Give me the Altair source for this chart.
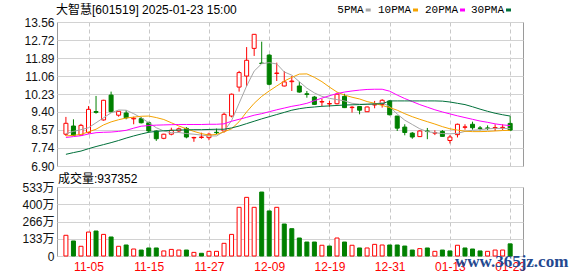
import altair as alt
import pandas as pd

# ---------------- data ----------------
opens = [8.37, 8.75, 8.33, 8.44, 9.42, 9.03, 10.18, 9.25, 9.35, 9.08,
         9.09, 8.90, 8.52, 8.18, 8.37, 8.52, 8.64, 8.20, 8.22, 8.21,
         8.46, 8.52, 9.21, 10.55, 11.06, 12.34, 11.66, 12.03, 11.18, 10.60,
         10.80, 10.60, 10.24, 10.09, 9.86, 9.77, 9.78, 10.12, 9.60, 9.65,
         9.41, 9.72, 9.75, 9.91, 9.21, 8.70, 8.42, 8.26, 8.52, 8.42,
         8.50, 8.08, 8.35, 8.69, 8.83, 8.66, 8.66, 8.66, 8.67, 8.87]
highs = [9.17, 9.06, 8.85, 9.67, 10.14, 9.96, 10.34, 9.44, 9.48, 9.18,
         9.17, 8.95, 8.55, 8.39, 8.67, 8.68, 8.70, 8.25, 8.44, 8.44,
         8.63, 9.37, 10.25, 11.30, 12.40, 13.00, 12.65, 12.07, 11.68, 11.29,
         11.06, 10.80, 10.37, 10.14, 10.01, 9.91, 10.29, 10.24, 9.67, 9.65,
         9.65, 9.91, 9.99, 9.94, 9.21, 8.83, 8.47, 8.55, 8.66, 8.55,
         8.56, 8.33, 8.86, 8.83, 8.95, 8.75, 8.78, 8.83, 8.83, 9.20]
lows = [8.29, 8.29, 8.30, 8.40, 9.32, 9.00, 9.37, 9.18, 9.06, 8.83,
        8.87, 8.44, 8.06, 8.14, 8.32, 8.45, 8.18, 8.02, 8.16, 8.09,
        8.37, 8.44, 9.15, 10.34, 10.60, 11.99, 11.62, 10.63, 10.83, 10.58,
        10.37, 10.29, 10.06, 9.72, 9.67, 9.64, 9.75, 9.58, 9.37, 9.29,
        9.40, 9.57, 9.60, 9.24, 8.52, 8.32, 8.16, 8.24, 8.14, 8.33,
        8.26, 7.94, 8.22, 8.58, 8.58, 8.55, 8.56, 8.52, 8.56, 8.52]
closes = [8.875, 8.32, 8.78, 9.52, 9.38, 9.94, 9.41, 9.43, 9.13, 9.11,
          8.90, 8.52, 8.16, 8.37, 8.55, 8.62, 8.24, 8.22, 8.24, 8.37,
          8.44, 9.29, 10.22, 11.22, 11.79, 12.99, 11.64, 10.68, 11.20, 10.79,
          10.83, 10.32, 10.21, 9.75, 9.88, 9.79, 10.22, 9.60, 9.62, 9.48,
          9.63, 9.75, 9.94, 9.27, 8.65, 8.45, 8.24, 8.52, 8.50, 8.44,
          8.27, 8.24, 8.83, 8.71, 8.67, 8.64, 8.64, 8.68, 8.69, 8.56]
# volume in units of 万
volumes = [160, 116, 75, 185, 193, 167, 147, 75, 85, 54,
           46, 62, 62, 39, 51, 46, 46, 28, 21, 36,
           36, 98, 167, 376, 453, 376, 494, 348, 376, 247,
           211, 139, 108, 108, 83, 77, 139, 108, 83, 62,
           62, 90, 85, 85, 85, 77, 46, 57, 62, 36,
           46, 39, 83, 62, 54, 39, 36, 46, 46, 93.7]
vol_dir = ("RGRRGRGRGR" "GGGRRRGRGR" "RRRRRRGGRG"
           "GGGGRGRGRG" "RRRGGGGRGR" "GGRGGGRRRG")

ma5 = [8.40, 8.50, 8.58, 8.67, 8.90, 9.13, 9.36, 9.49, 9.48, 9.32,
       9.13, 8.90, 8.67, 8.52, 8.44, 8.45, 8.40, 8.37, 8.33, 8.29,
       8.29, 8.50, 9.00, 9.80, 10.60, 11.29, 11.63, 11.68, 11.62, 11.25,
       11.10, 10.80, 10.50, 10.28, 10.12, 10.03, 9.97, 9.91, 9.80, 9.76,
       9.75, 9.77, 9.83, 9.65, 9.30, 9.02, 8.82, 8.62, 8.49, 8.44,
       8.40, 8.39, 8.41, 8.50, 8.55, 8.58, 8.62, 8.64, 8.64, 8.63]
ma10 = [8.29, 8.32, 8.36, 8.48, 8.60, 8.80, 8.94, 9.04, 9.12, 9.16,
        9.20, 9.21, 9.14, 9.05, 8.90, 8.75, 8.62, 8.50, 8.40, 8.33,
        8.36, 8.48, 8.62, 8.95, 9.40, 9.80, 10.12, 10.37, 10.60, 10.83,
        11.00, 11.15, 11.16, 11.00, 10.80, 10.55, 10.32, 10.18, 10.08, 10.00,
        9.88, 9.80, 9.70, 9.60, 9.48, 9.32, 9.18, 9.06, 8.95, 8.84,
        8.72, 8.62, 8.56, 8.51, 8.49, 8.49, 8.50, 8.52, 8.54, 8.55]
ma20 = [8.22, 8.26, 8.30, 8.38, 8.44, 8.46, 8.47, 8.50, 8.55, 8.65,
        8.74, 8.77, 8.79, 8.80, 8.81, 8.82, 8.82, 8.82, 8.82, 8.83,
        8.83, 8.85, 8.97, 9.06, 9.15, 9.25, 9.32, 9.41, 9.50, 9.58,
        9.66, 9.72, 9.80, 9.92, 10.04, 10.15, 10.25, 10.32, 10.37, 10.41,
        10.44, 10.45, 10.45, 10.36, 10.18, 10.02, 9.88, 9.74, 9.62, 9.50,
        9.40, 9.31, 9.22, 9.14, 9.06, 8.98, 8.92, 8.85, 8.80, 8.77]
ma30 = [7.44, 7.52, 7.59, 7.70, 7.80, 7.89, 7.98, 8.08, 8.19, 8.29,
        8.38, 8.46, 8.50, 8.53, 8.55, 8.56, 8.57, 8.58, 8.58, 8.59,
        8.60, 8.60, 8.66, 8.75, 8.86, 8.97, 9.08, 9.18, 9.28, 9.38,
        9.48, 9.55, 9.60, 9.63, 9.66, 9.68, 9.70, 9.72, 9.73, 9.74,
        9.76, 9.77, 9.78, 9.91, 9.91, 9.91, 9.91, 9.91, 9.91, 9.91,
        9.90, 9.86, 9.80, 9.74, 9.64, 9.53, 9.43, 9.34, 9.27, 9.21]

ma_names = ["5PMA", "10PMA", "20PMA", "30PMA"]
tick_idx = [3, 11, 19, 27, 35, 43, 51, 59]
tick_labels = ["11-05", "11-15", "11-27", "12-09", "12-19", "12-31", "01-13", "01-23"]
price_ticks = [6.90, 7.74, 8.57, 9.40, 10.23, 11.06, 11.89, 12.72, 13.56]
vol_ticks = [0, 133, 266, 400, 533]
title_text = "大智慧[601519] 2025-01-23 15:00"
vol_title = "成交量:937352"
watermark = "www.365jz.com"

# ---------------- styles ----------------
RED = "#ff0000"
GREEN = "#008000"
MA_COLORS = ["#a6a6a6", "#f5a300", "#ff00ff", "#00703a"]
FONT = "Liberation Sans, Noto Sans CJK SC"
MONO = "Liberation Mono"
MONO_SIZE = 11
MONO_ADV = 0.6 * MONO_SIZE

n = len(closes)
candles = pd.DataFrame({
    "i": list(range(n)), "open": opens, "high": highs, "low": lows, "close": closes,
    "dir": ["up" if c >= o else "down" for o, c in zip(opens, closes)],
})
vols = pd.DataFrame({
    "i": list(range(n)), "vol": volumes,
    "dir": ["up" if d == "R" else "down" for d in vol_dir],
})
ma_df = pd.concat([
    pd.DataFrame({"i": list(range(n)), "val": v, "ma": name})
    for name, v in zip(ma_names, [ma5, ma10, ma20, ma30])
], ignore_index=True)

x_scale = alt.Scale(domain=[-0.52, 60.04], nice=False, zero=False)
py_scale = alt.Scale(domain=[6.90, 13.56], nice=False, zero=False)
vy_scale = alt.Scale(domain=[0, 533], nice=False)
dir_stroke = alt.Scale(domain=["up", "down"], range=[RED, GREEN])
dir_fill = alt.Scale(domain=["up", "down"], range=["#ffffff", GREEN])

label_expr = "".join(f"datum.value == {i} ? '{l}' : " for i, l in zip(tick_idx, tick_labels)) + "''"
x_axis_main = alt.Axis(values=tick_idx, labels=False, title=None, grid=True)
x_axis_vol = alt.Axis(values=tick_idx, labelExpr=label_expr, title=None, grid=True)
y_axis_main = alt.Axis(values=price_ticks, format=".2f", title=None, grid=True)
y_axis_vol = alt.Axis(values=vol_ticks, title=None, grid=True,
                      labelExpr="datum.value == 0 ? '0' : datum.value + '万'")

xm = alt.X("i:Q", scale=x_scale, axis=x_axis_main)
xv = alt.X("i:Q", scale=x_scale, axis=x_axis_vol)

wick = alt.Chart(candles).mark_rule(strokeWidth=1).encode(
    x=xm,
    y=alt.Y("low:Q", scale=py_scale, axis=y_axis_main),
    y2="high:Q",
    stroke=alt.Stroke("dir:N", scale=dir_stroke, legend=None),
)
body = alt.Chart(candles).mark_bar(size=4, strokeWidth=1).encode(
    x=xm,
    y=alt.Y("open:Q", scale=py_scale, axis=y_axis_main),
    y2="close:Q",
    fill=alt.Fill("dir:N", scale=dir_fill, legend=None),
    stroke=alt.Stroke("dir:N", scale=dir_stroke, legend=None),
)
lines = alt.Chart(ma_df).mark_line(strokeWidth=1).encode(
    x=xm,
    y=alt.Y("val:Q", scale=py_scale, axis=y_axis_main),
    color=alt.Color("ma:N", scale=alt.Scale(domain=ma_names, range=MA_COLORS), legend=None),
)

title = alt.Chart(pd.DataFrame({"t": [title_text]})).mark_text(
    align="left", baseline="middle", font=FONT, fontSize=12, color="#000000"
).encode(x=alt.value(-1), y=alt.value(-12), text="t:N")

main_layers = [wick, body, lines, title]
# legend: label followed by a short colour swatch (swatch left edges, plot coords)
swatch_x = [308.7, 356, 403, 449]
for name, col, sx in zip(ma_names, MA_COLORS, swatch_x):
    w = MONO_ADV * len(name)
    main_layers.append(
        alt.Chart(pd.DataFrame({"t": [name]})).mark_text(
            align="left", baseline="middle", font=MONO, fontSize=MONO_SIZE, color="#000000"
        ).encode(x=alt.value(sx - 2 - w), y=alt.value(-12), text="t:N")
    )
    main_layers.append(
        alt.Chart(pd.DataFrame({"t": [name]})).mark_rule(strokeWidth=3, color=col).encode(
            x=alt.value(sx), x2=alt.value(sx + 5), y=alt.value(-12)
        )
    )

main = alt.layer(*main_layers).properties(width=466, height=144)

vbar = alt.Chart(vols).mark_bar(size=4, strokeWidth=1).encode(
    x=xv,
    y=alt.Y("vol:Q", scale=vy_scale, axis=y_axis_vol),
    fill=alt.Fill("dir:N", scale=dir_fill, legend=None),
    stroke=alt.Stroke("dir:N", scale=dir_stroke, legend=None),
)
vtitle = alt.Chart(pd.DataFrame({"t": [vol_title]})).mark_text(
    align="left", baseline="middle", font=FONT, fontSize=12, color="#000000"
).encode(x=alt.value(1), y=alt.value(-8.5), text="t:N")
wmark = alt.Chart(pd.DataFrame({"t": [watermark]})).mark_text(
    align="left", baseline="middle", font="Liberation Serif", fontSize=17,
    fontWeight="bold", color="#24488f"
).encode(x=alt.value(398), y=alt.value(74.5), text="t:N")

vol = alt.layer(vbar, vtitle, wmark).properties(width=466, height=69)

chart = alt.vconcat(main, vol, spacing=21, bounds="flush").properties(
    padding={"left": 21, "top": 3, "right": 5, "bottom": 2}
).configure_view(
    stroke="#9a9a9a", strokeWidth=1
).configure_axis(
    domain=False, ticks=False, tickSize=0, labelFont=FONT, labelFontSize=12,
    labelColor="#111111", labelPadding=3, gridWidth=1
).configure_axisX(
    gridColor="#c8c8c8", gridDash=[4, 3], labelColor=RED, labelPadding=5
).configure_axisY(
    gridColor="#d2d2d2"
)

chart.save("out.html", embed_options={"renderer": "svg", "actions": False})
